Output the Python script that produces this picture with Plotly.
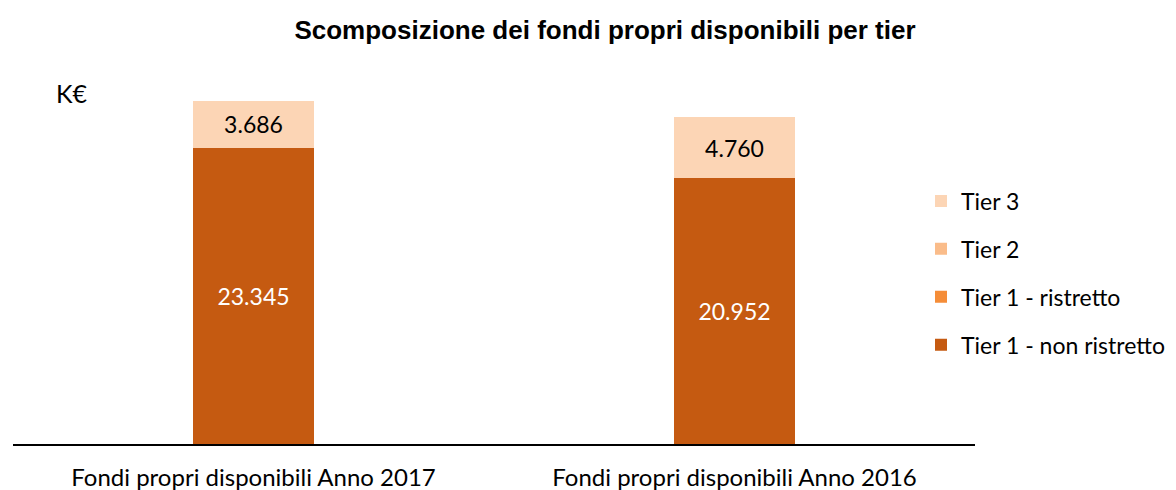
import plotly.graph_objects as go

categories = ["Fondi propri disponibili Anno 2017", "Fondi propri disponibili Anno 2016"]
tier1_non_ristretto = [23345, 20952]
tier1_ristretto = [0, 0]
tier2 = [0, 0]
tier3 = [3686, 4760]

series = [
    ("Tier 1 - non ristretto", tier1_non_ristretto, "#C55A11", "white", 4),
    ("Tier 1 - ristretto", tier1_ristretto, "#F58D38", "black", 3),
    ("Tier 2", tier2, "#FABC8A", "black", 2),
    ("Tier 3", tier3, "#FCD5B5", "black", 1),
]

FONT = "Lato"
# page body has an 8px margin: figure drawn 8px right/down of the window origin
W, H = 1160, 482
L, R, T, B = 5, 193, 55, 46
PW, PH = W - L - R, H - T - B

fig = go.Figure()
for name, vals, color, tcolor, rank in series:
    fig.add_trace(go.Bar(
        name=name, x=categories, y=vals,
        marker=dict(color=color, line=dict(width=0)),
        text=[f"{v:,}".replace(",", ".") if v else "" for v in vals],
        textposition="inside", insidetextanchor="middle",
        textfont=dict(family=FONT, size=23, color=tcolor),
        legendgroup=name, legendrank=rank, width=0.25,
    ))

fig.update_layout(
    barmode="stack",
    width=W, height=H,
    margin=dict(l=L, r=R, t=T, b=B, autoexpand=False),
    paper_bgcolor="white", plot_bgcolor="white",
    title=dict(text="<b>Scomposizione dei fondi propri disponibili per tier</b>",
               x=597 / W, xanchor="center", y=1 - 22 / H, yanchor="middle",
               font=dict(family="Liberation Sans", size=26, color="black")),
    legend=dict(x=(913 - L) / PW, xanchor="left", y=(436 - 265) / PH, yanchor="middle",
                traceorder="grouped", tracegroupgap=15, itemwidth=30,
                font=dict(family=FONT, size=23, color="black")),
    xaxis=dict(showline=True, linecolor="black", linewidth=2, ticks="",
               ticklabelstandoff=11, automargin=False,
               tickfont=dict(family=FONT, size=24, color="black")),
    yaxis=dict(range=[0, 30000], visible=False, showgrid=False, automargin=False),
)
fig.add_annotation(text="K€", xref="paper", yref="paper",
                   x=(64 - L) / PW, y=(436 - 85) / PH,
                   xanchor="center", yanchor="middle", showarrow=False,
                   font=dict(family=FONT, size=25, color="black"))
fig.write_html("out.html")
